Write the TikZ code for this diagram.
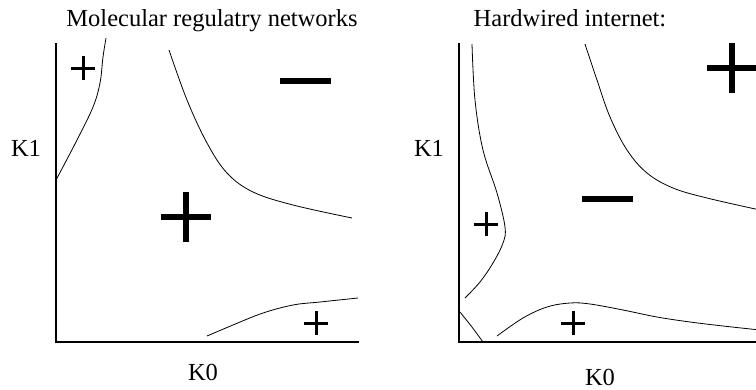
\documentclass[tikz,border=0pt]{standalone}
\usepackage{fontspec}
\setmainfont{Liberation Serif}
\usetikzlibrary{shapes.misc}
\tikzset{
    axis/.style={
        draw,
        line width=2.6pt,
        line cap=rect
    },
    border/.style={
        draw,
        line width=0.8pt
    },
    label/.style={
        anchor=base,
        inner sep=0pt,
        font=\fontsize{24.5}{28}\selectfont
    },
    bigplus/.style={
        cross out,
        draw,
        rotate=45,
        line width=6pt,
        minimum size=36pt,
        inner sep=0pt,
        outer sep=0pt
    },
    smallplus/.style={
        cross out,
        draw,
        rotate=45,
        line width=3pt,
        minimum size=17.5pt,
        inner sep=0pt,
        outer sep=0pt
    },
    bigminus/.style={
        rectangle,
        fill=black,
        minimum width=51pt,
        minimum height=6pt,
        inner sep=0pt,
        outer sep=0pt
    }
}

\begin{document}
\begin{tikzpicture}[x=1pt,y=-1pt]
    \useasboundingbox (0,0) rectangle (756,389);
    \clip (0,0) rectangle (756,389);

    % Left panel
    \node (tL) [label] at (212,26) {Molecular regulatry networks};
    \node (k1L) [label] at (26,156) {K1};
    \node (k0L) [label] at (203,380) {K0};
    \draw [axis] (56,44) -- (56,342) -- (358,342);

    \draw [border] plot[smooth, tension=0.6] coordinates
        {(56,180) (77,140) (93,107) (100,83) (103,57) (106,38)};
    \draw [border] plot[smooth, tension=0.6] coordinates
        {(169,50) (187,100) (207,143) (227,173) (253,192) (293,205) (352,218)};
    \draw [border] plot[smooth, tension=0.6] coordinates
        {(207,336) (233,325) (263,313) (293,305) (320,302) (358,298)};

    \node (pL1) [smallplus] at (83,68) {};
    \node (mL) [bigminus] at (305,81) {};
    \node (pL2) [bigplus] at (186,217) {};
    \node (pL3) [smallplus] at (316,323) {};

    % Right panel
    \node (tR) [label] at (570,26) {Hardwired internet:};
    \node (k1R) [label] at (429,156) {K1};
    \node (k0R) [label] at (600,385) {K0};
    \draw [axis] (459,44) -- (459,342) -- (770,342);

    \draw [border] plot[smooth, tension=0.6] coordinates
        {(472,44) (475,100) (483,150) (497,193) (505,227) (503,243) (493,263) (480,282) (465,298)};
    \draw [border] (460,312) -- (472,327) -- (483,342);
    \draw [border] plot[smooth, tension=0.6] coordinates
        {(497,336) (523,318) (547,307) (570,303) (590,304) (623,310) (657,317) (690,322) (723,326) (760,330)};
    \draw [border] plot[smooth, tension=0.6] coordinates
        {(585,44) (597,80) (610,117) (627,150) (647,173) (673,188) (707,198) (760,210)};

    \node (pR1) [bigplus] at (732,68) {};
    \node (mR) [bigminus] at (607,199) {};
    \node (pR2) [smallplus] at (486,224) {};
    \node (pR3) [smallplus] at (573,323) {};

\end{tikzpicture}
\end{document}
